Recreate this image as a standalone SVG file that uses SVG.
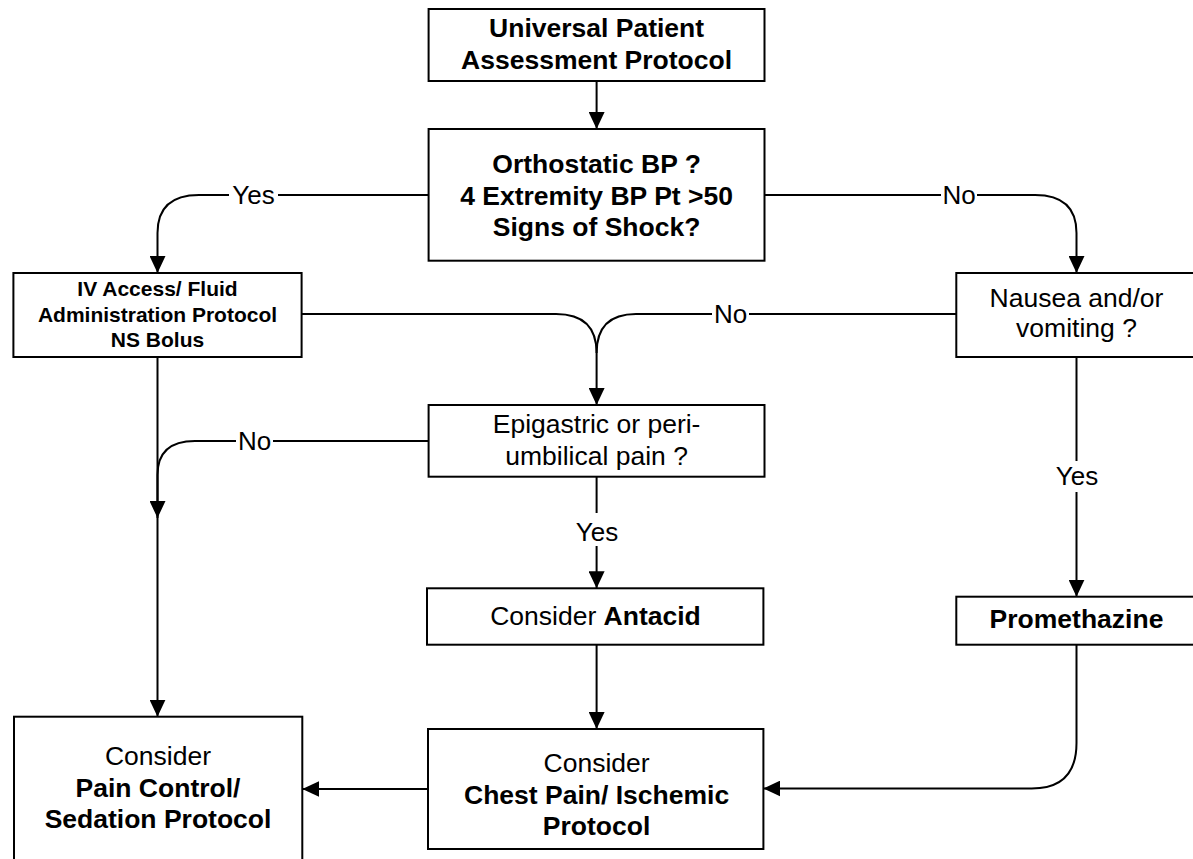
<svg xmlns="http://www.w3.org/2000/svg" width="1193" height="859" viewBox="0 0 1193 859">
<style>
.box{fill:#fff;stroke:#000;stroke-width:2}
.c{fill:none;stroke:#000;stroke-width:2}
text{font-family:"Liberation Sans",Arial,sans-serif;font-size:26.5px;fill:#000;text-anchor:middle}
.b{font-weight:bold}
.s{font-size:21px;font-weight:bold}
.lbl{font-size:26px}
.bg{fill:#fff;stroke:none}
</style>
<defs>
<marker id="ah" markerUnits="userSpaceOnUse" markerWidth="17" markerHeight="16" refX="17" refY="8" orient="auto">
<path d="M0,0 L17,8 L0,16 z" fill="#000"/>
</marker>
</defs>
<rect width="1193" height="859" fill="#fff"/>
<g id="connectors">
<path class="c" d="M596.6,81 L596.6,129" marker-end="url(#ah)"/>
<path class="c" d="M428.6,195 L199,195 Q157.5,195 157.5,233 L157.5,273" marker-end="url(#ah)"/>
<path class="c" d="M764.5,195 L1035,195 Q1076.5,195 1076.5,233 L1076.5,273" marker-end="url(#ah)"/>
<path class="c" d="M956.3,314 L636,314 Q596.6,314 596.6,353"/>
<path class="c" d="M301.6,314 L556,314 Q596.6,314 596.6,353 L596.6,405" marker-end="url(#ah)"/>
<path class="c" d="M428.6,441 L195,441 Q157.5,441 157.5,475 L157.5,518" marker-end="url(#ah)"/>
<path class="c" d="M157.5,357 L157.5,716.7" marker-end="url(#ah)"/>
<path class="c" d="M596.6,476.7 L596.6,588.3" marker-end="url(#ah)"/>
<path class="c" d="M596.6,644.7 L596.6,729" marker-end="url(#ah)"/>
<path class="c" d="M428,789 L302.3,789" marker-end="url(#ah)"/>
<path class="c" d="M1076.5,356.7 L1076.5,596.7" marker-end="url(#ah)"/>
<path class="c" d="M1076.5,644.7 L1076.5,743 Q1076.5,788.5 1031.7,788.5 L763.4,788.5" marker-end="url(#ah)"/>
<rect class="bg" x="229" y="181" width="49" height="28"/>
<text class="lbl" x="253.5" y="204">Yes</text>
<rect class="bg" x="941" y="181" width="36" height="28"/>
<text class="lbl" x="959" y="204">No</text>
<rect class="bg" x="712" y="300" width="37" height="28"/>
<text class="lbl" x="730.5" y="323">No</text>
<rect class="bg" x="236" y="427" width="37" height="28"/>
<text class="lbl" x="254.5" y="450">No</text>
<rect class="bg" x="572" y="513" width="50" height="33"/>
<text class="lbl" x="597" y="541">Yes</text>
<rect class="bg" x="1052" y="461" width="50" height="31"/>
<text class="lbl" x="1077" y="485">Yes</text>
</g>
<g id="n1">
<rect class="box" x="428.6" y="9" width="335.9" height="72"/>
<text class="b" x="596.6" y="37">Universal Patient</text>
<text class="b" x="596.6" y="69">Assessment Protocol</text>
</g>
<g id="n2">
<rect class="box" x="428.6" y="129" width="335.9" height="131.7"/>
<text class="b" x="596.6" y="173">Orthostatic BP ?</text>
<text class="b" x="596.6" y="204.5">4 Extremity BP Pt &gt;50</text>
<text class="b" x="596.6" y="236">Signs of Shock?</text>
</g>
<g id="n3">
<rect class="box" x="13.4" y="273" width="288.2" height="84"/>
<text class="s" x="157.5" y="296">IV Access/ Fluid</text>
<text class="s" x="157.5" y="321.5">Administration Protocol</text>
<text class="s" x="157.5" y="346.5">NS Bolus</text>
</g>
<g id="n4">
<rect class="box" x="956.3" y="273" width="245" height="84"/>
<text x="1076.5" y="307">Nausea and/or</text>
<text x="1076.5" y="337">vomiting ?</text>
</g>
<g id="n5">
<rect class="box" x="428.6" y="405" width="335.9" height="71.7"/>
<text x="596.6" y="433.3">Epigastric or peri-</text>
<text x="596.6" y="465">umbilical pain ?</text>
</g>
<g id="n6">
<rect class="box" x="427" y="588.3" width="336.4" height="56.4"/>
<text x="595.5" y="625">Consider <tspan class="b">Antacid</tspan></text>
</g>
<g id="n7">
<rect class="box" x="956.3" y="596.7" width="245" height="48"/>
<text class="b" x="1076.5" y="628">Promethazine</text>
</g>
<g id="n8">
<rect class="box" x="428" y="729" width="335.4" height="120"/>
<text x="596.6" y="771.7">Consider</text>
<text class="b" x="596.6" y="804">Chest Pain/ Ischemic</text>
<text class="b" x="596.6" y="835">Protocol</text>
</g>
<g id="n9">
<rect class="box" x="14" y="716.7" width="288.3" height="160"/>
<text x="158" y="765">Consider</text>
<text class="b" x="158" y="796.7">Pain Control/</text>
<text class="b" x="158" y="828">Sedation Protocol</text>
</g>
</svg>
